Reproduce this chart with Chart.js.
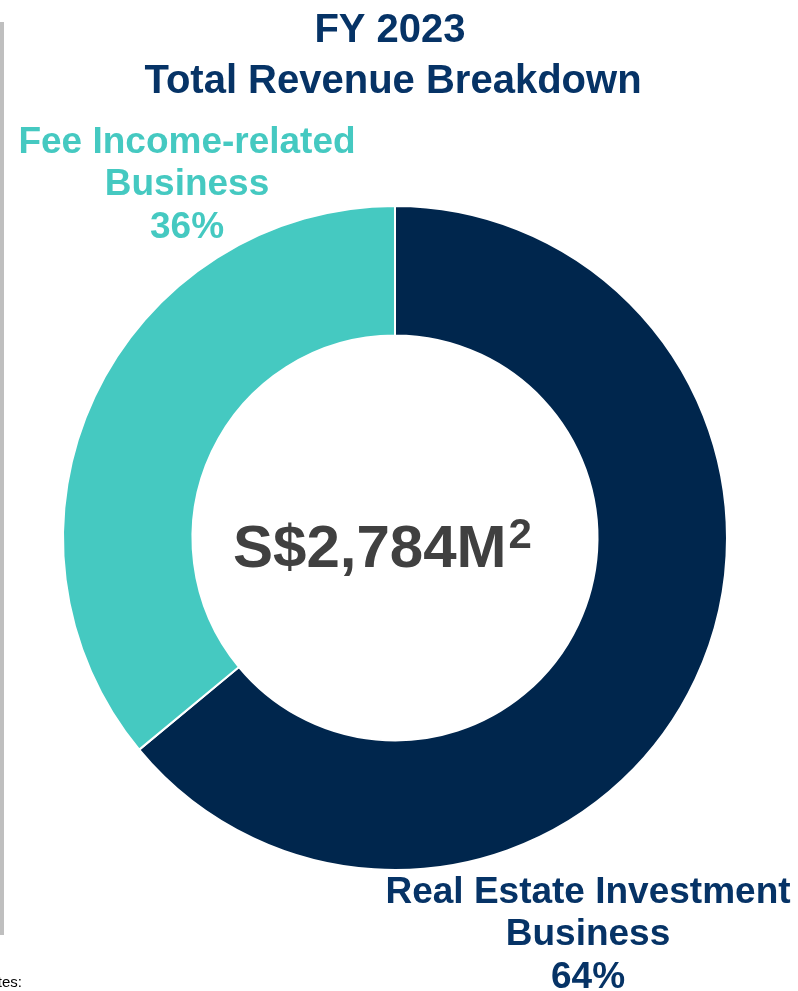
<!DOCTYPE html>
<html>
<head>
<meta charset="utf-8">
<script src="https://cdn.jsdelivr.net/npm/chart.js@4.4.0/dist/chart.umd.min.js"></script>
<style>
  html, body { margin: 0; padding: 0; background: #fff; }
  canvas { display: block; }
</style>
</head>
<body>
<canvas id="revenueChart" width="798" height="991"></canvas>
<script>
// FY 2023 revenue split
const segmentLabels = ['Real Estate Investment Business', 'Fee Income-related Business'];
const segmentShares = [64, 36];
const segmentColors = ['#00264d', '#45c9c1'];
const totalRevenue = 'S$2,784M';
const titleLines = ['FY 2023', 'Total Revenue Breakdown'];

const FONT = '"Liberation Sans", Arial, sans-serif';

// labels sit outside the ring, so just draw them as text
const textPlugin = {
  id: 'textPlugin',
  afterDraw: (chart) => {
    const ctx = chart.ctx;
    ctx.save();

    // grey rule on the left edge
    ctx.fillStyle = '#bfbfbf';
    ctx.fillRect(0, 22, 4, 913);

    ctx.textAlign = 'center';
    ctx.textBaseline = 'alphabetic';

    // title
    ctx.fillStyle = '#063366';
    ctx.font = 'bold 40px ' + FONT;
    ctx.fillText(titleLines[0], 390, 42);
    ctx.fillText(titleLines[1], 393, 93);

    // fee income label
    ctx.fillStyle = segmentColors[1];
    ctx.font = 'bold 37px ' + FONT;
    ctx.fillText('Fee Income-related', 187, 153);
    ctx.fillText('Business', 187, 195);
    ctx.fillText(segmentShares[1] + '%', 187, 238);

    // real estate label
    ctx.fillStyle = '#063366';
    ctx.fillText('Real Estate Investment', 588, 903);
    ctx.fillText('Business', 588, 945);
    ctx.fillText(segmentShares[0] + '%', 588, 988);

    // centre total with superscript
    ctx.fillStyle = '#404040';
    ctx.textAlign = 'left';
    ctx.font = 'bold 60px ' + FONT;
    ctx.fillText(totalRevenue, 233, 567);
    const mainW = ctx.measureText(totalRevenue).width;
    ctx.font = 'bold 42px ' + FONT;
    ctx.fillText('2', 233 + mainW + 2, 548);

    // cut-off footnote heading
    ctx.fillStyle = '#000';
    ctx.font = '15px ' + FONT;
    ctx.textAlign = 'right';
    ctx.fillText('Notes:', 22, 987);

    ctx.restore();
  }
};

const initRevenueChart = () => {
  const ctx = document.getElementById('revenueChart');
  const data = {
    labels: segmentLabels,
    datasets: [{
      data: segmentShares,
      backgroundColor: segmentColors,
      borderColor: '#ffffff',
      borderWidth: 2
    }]
  };
  const config = {
    type: 'doughnut',
    data,
    options: {
      responsive: false,
      animation: false,
      devicePixelRatio: 1,
      cutout: '61%',
      rotation: 0,
      layout: { padding: { left: 62, right: 70, top: 205, bottom: 120 } },
      plugins: {
        legend: { display: false },
        tooltip: { enabled: false }
      }
    },
    plugins: [textPlugin]
  };
  new Chart(ctx, config);
};

initRevenueChart();
</script>
</body>
</html>
